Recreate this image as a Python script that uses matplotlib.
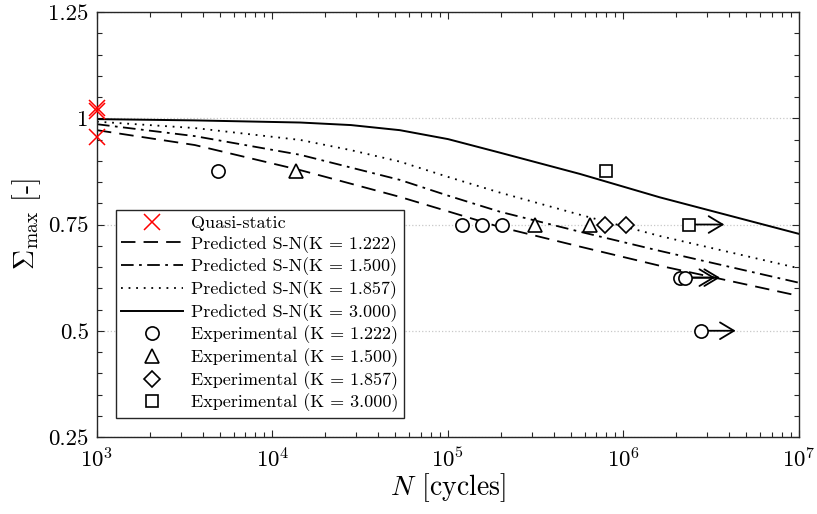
import matplotlib; matplotlib.use("Agg")
import matplotlib.pyplot as plt
from matplotlib.ticker import FixedLocator, MultipleLocator, FuncFormatter, LogLocator

plt.rcParams['font.family'] = ['cmr10', 'DejaVu Serif']
plt.rcParams['mathtext.fontset'] = 'cm'
plt.rcParams['axes.unicode_minus'] = False
plt.rcParams['axes.formatter.use_mathtext'] = True

# quasi-static points
N_qs = [1e3, 1e3, 1e3]
S_qs = [1.025, 1.017, 0.957]

# predicted S-N curves
N_pred = [1e3, 3.61e3, 1.44e4, 2.8e4, 5.32e4, 1.0e5, 1.98e5, 5.65e5, 1.61e6, 1e7]
S_k1222 = [0.972, 0.937, 0.878, 0.846, 0.815, 0.781, 0.744, 0.698, 0.653, 0.582]
S_k1500 = [0.986, 0.958, 0.914, 0.884, 0.855, 0.818, 0.780, 0.733, 0.688, 0.613]
S_k1857 = [0.992, 0.977, 0.949, 0.925, 0.898, 0.862, 0.825, 0.773, 0.723, 0.647]
S_k3000 = [0.998, 0.995, 0.990, 0.984, 0.972, 0.951, 0.919, 0.869, 0.814, 0.728]

# experimental points (runout = still unbroken)
N_e1222 = [4.9e3, 1.2e5, 1.56e5, 2.03e5, 2.1e6, 2.24e6, 2.75e6]
S_e1222 = [0.875, 0.75, 0.75, 0.75, 0.625, 0.625, 0.5]
R_e1222 = [False, False, False, False, True, True, True]
N_e1500 = [1.36e4, 3.13e5, 6.44e5]
S_e1500 = [0.875, 0.75, 0.75]
N_e1857 = [7.83e5, 1.03e6]
S_e1857 = [0.75, 0.75]
N_e3000 = [8.0e5, 2.37e6]
S_e3000 = [0.875, 0.75]
R_e3000 = [False, True]

fig = plt.figure(figsize=(8.17, 5.14), dpi=100)
ax = fig.add_axes([0.1187, 0.1498, 0.8592, 0.8268])
ax.set_xscale('log')

ax.plot(N_qs, S_qs, 'x', color='red', ms=11, mew=1.1, clip_on=False, zorder=5,
        label='Quasi-static')
ax.plot(N_pred, S_k1222, color='black', lw=1.3, dashes=(8, 4.5),
        label='Predicted S-N(K = 1.222)')
ax.plot(N_pred, S_k1500, color='black', lw=1.3, dashes=(7, 3, 1.5, 3),
        label='Predicted S-N(K = 1.500)')
ax.plot(N_pred, S_k1857, color='black', lw=1.3, dashes=(1, 3.2),
        label='Predicted S-N(K = 1.857)')
ax.plot(N_pred, S_k3000, color='black', lw=1.4, ls='-',
        label='Predicted S-N(K = 3.000)')

mk = dict(ls='none', mfc='white', mec='black', mew=1.2, zorder=4)
ax.plot(N_e1222, S_e1222, 'o', ms=9.5, label='Experimental (K = 1.222)', **mk)
ax.plot(N_e1500, S_e1500, '^', ms=10.5, label='Experimental (K = 1.500)', **mk)
ax.plot(N_e1857, S_e1857, 'D', ms=8, label='Experimental (K = 1.857)', **mk)
ax.plot(N_e3000, S_e3000, 's', ms=8, label='Experimental (K = 3.000)', **mk)

# run-out arrows
for Ns, Ss, Rs in [(N_e1222, S_e1222, R_e1222), (N_e3000, S_e3000, R_e3000)]:
    for n, s, r in zip(Ns, Ss, Rs):
        if r:
            ax.annotate('', xy=(n * 10 ** 0.2, s), xytext=(n, s),
                        arrowprops=dict(arrowstyle='->,head_length=1.0,head_width=0.6',
                                        color='black', lw=1.3, shrinkA=4, shrinkB=0,
                                        mutation_scale=10), zorder=3)

ax.set_xlim(1e3, 1e7)
ax.set_ylim(0.25, 1.25)
ax.yaxis.set_major_locator(FixedLocator([0.25, 0.5, 0.75, 1.0, 1.25]))
ax.yaxis.set_minor_locator(MultipleLocator(0.05))
ax.yaxis.set_major_formatter(FuncFormatter(lambda v, p: f'{v:g}'))
ax.xaxis.set_major_locator(LogLocator(base=10, numticks=10))
ax.xaxis.set_minor_locator(LogLocator(base=10, subs=range(2, 10), numticks=10))

ax.grid(True, axis='y', which='major', ls=':', color='#c8c8c8', lw=0.9)
ax.tick_params(which='both', direction='in', top=True, right=True, colors='#262626',
               labelcolor='black', labelsize=16.5)
ax.tick_params(which='major', length=5, width=0.8)
ax.tick_params(which='minor', length=3.5, width=0.8)
ax.tick_params(axis='x', pad=7)
ax.tick_params(axis='y', pad=6)
for sp in ax.spines.values():
    sp.set_color('#262626'); sp.set_linewidth(1.0)

ax.set_xlabel(r'$N$ [cycles]', fontsize=20, labelpad=0)
ax.set_ylabel(r'$\Sigma_{\mathrm{max}}$ [-]', fontsize=20, labelpad=4)

leg = ax.legend(loc='lower left', bbox_to_anchor=(0.027, 0.045), borderaxespad=0,
                fontsize=13, frameon=True, fancybox=False, framealpha=1,
                edgecolor='#262626', handlelength=3.4, labelspacing=0.22,
                borderpad=0.3, handletextpad=0.45)
leg.get_frame().set_linewidth(1.0)

fig.savefig('out.png', dpi=100)
